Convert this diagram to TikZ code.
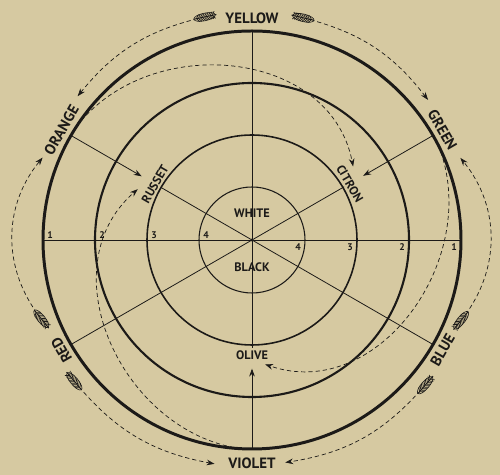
\documentclass[tikz,border=0pt]{standalone}
\usepackage{fontspec}
\setmainfont{PT Sans}
\usetikzlibrary{arrows.meta}

\definecolor{paper}{RGB}{214,201,161}
\definecolor{ink}{RGB}{28,26,24}

\tikzset{
	ring/.style={draw=ink},
	spoke/.style={draw=ink, line width=0.45pt},
	hue/.style={font=\fontsize{8.5}{10}\selectfont\bfseries, text=ink, inner sep=1pt},
	tint/.style={font=\fontsize{7}{8}\selectfont\bfseries, text=ink, inner sep=1pt},
	num/.style={font=\fontsize{5.5}{6}\selectfont\bfseries, text=ink, inner sep=0pt},
	tip/.style={-{Stealth[length=4.5pt,width=3.2pt]}},
	flow/.style={draw=ink, line width=0.4pt, dash pattern=on 2.4pt off 1.7pt, tip},
	pics/fletch/.style={code={
		\fill[paper] (0,0) ellipse [x radius=11, y radius=4.2];
		\draw[ink, line width=0.35pt] (0,0) ellipse [x radius=11, y radius=3.8];
		\draw[ink, line width=0.6pt] (-12,0) -- (11,0);
		\foreach \t in {-8,-6,...,8}
			\draw[ink, line width=0.4pt] (\t,0.6) -- ++(-2.5,3) (\t,-0.6) -- ++(-2.5,-3);
	}}
}

\begin{document}
\begin{tikzpicture}[x=0.02cm, y=0.02cm]
		\fill[paper] (-252,-235) rectangle (248,240);
		\useasboundingbox (-252,-235) rectangle (248,240);

		% rings
		\draw[ring, line width=1.7pt] (0,0) circle (209);
		\draw[ring, line width=1.2pt] (0,0) circle (157);
		\draw[ring, line width=0.9pt] (0,0) circle (105);
		\draw[ring, line width=0.6pt] (0,0) circle (53);
		\fill[ink] (0,0) circle (1.6);

		% colour names
		\node[hue] (yellow) at (90:222) {YELLOW};
		\node[hue, rotate=-60] (green) at (30:220) {GREEN};
		\node[hue, rotate=60] (blue) at (330:220) {BLUE};
		\node[hue] (violet) at (270:223) {VIOLET};
		\node[hue, rotate=120] (red) at (210:220) {RED};
		\node[hue, rotate=60] (orange) at (150:220) {ORANGE};
		\node[tint, rotate=60] (russet) at (150:112) {RUSSET};
		\node[tint, rotate=-60] (citron) at (30:113) {CITRON};
		\node[tint] (olive) at (270:115) {OLIVE};
		\node[tint] (white) at (0,27) {WHITE};
		\node[tint] (black) at (0,-27) {BLACK};

		% ring numbers
		\foreach \n/\rad in {1/209,2/157,3/105,4/53} {
			\node[num] (w\n) at (-\rad+7,5) {\n};
			\node[num] (e\n) at (\rad-7,-7) {\n};
		}

		% spokes
		\coordinate (top) at (90:209);
		\coordinate (bot) at (270:209);
		\coordinate (west) at (180:209);
		\coordinate (east) at (0:209);
		\coordinate (po) at (150:209);
		\coordinate (pg) at (30:209);
		\coordinate (pr) at (210:209);
		\coordinate (pb) at (330:209);
		\draw[spoke] (west) -- (east);
		\draw[spoke] (top) -- (olive);
		\draw[spoke, tip, shorten >=4pt] (bot) -- (olive);
		\draw[spoke, tip, shorten >=5pt] (po) -- (russet);
		\draw[spoke] (russet) -- (pb);
		\draw[spoke, tip, shorten >=5pt] (pg) -- (citron);
		\draw[spoke] (citron) -- (pr);

		% outer flows, feathered at the tail
		\coordinate (fa) at (102:228);
		\coordinate (ea) at (140.5:226);
		\coordinate (fb) at (77:228);
		\coordinate (eb) at (38.5:225);
		\coordinate (fe) at (-21:224);
		\coordinate (ee) at (21.5:224);
		\coordinate (ff) at (200.5:225);
		\coordinate (ef) at (158.5:225);
		\coordinate (fh) at (218.5:227);
		\coordinate (eh) at (260.5:227);
		\coordinate (fi) at (-40:226);
		\coordinate (ei) at (-81.5:225);
		\draw[flow] (fa) to[bend right=19] (ea);
		\draw[flow] (fb) to[bend left=19] (eb);
		\draw[flow] (fe) to[bend right=39] (ee);
		\draw[flow] (ff) to[bend left=39] (ef);
		\draw[flow] (fh) to[bend right=20] (eh);
		\draw[flow] (fi) to[bend left=20] (ei);
		\pic[rotate=192] at (fa) {fletch};
		\pic[rotate=-13] at (fb) {fletch};
		\pic[rotate=51] at (fe) {fletch};
		\pic[rotate=129] at (ff) {fletch};
		\pic[rotate=310] at (fh) {fletch};
		\pic[rotate=229] at (fi) {fletch};

		% inner spirals
		\coordinate (sc) at (147:209);
		\coordinate (tc) at (36:125);
		\coordinate (sd) at (27:209);
		\coordinate (td) at (-84:125);
		\coordinate (sg) at (267:209);
		\coordinate (tg) at (156:125);
		\draw[flow] (sc) to[out=52, in=101, looseness=1.1] (tc);
		\draw[flow] (sd) to[out=-68, in=-19, looseness=1.1] (td);
		\draw[flow] (sg) to[out=172, in=221, looseness=1.1] (tg);
\end{tikzpicture}
\end{document}
